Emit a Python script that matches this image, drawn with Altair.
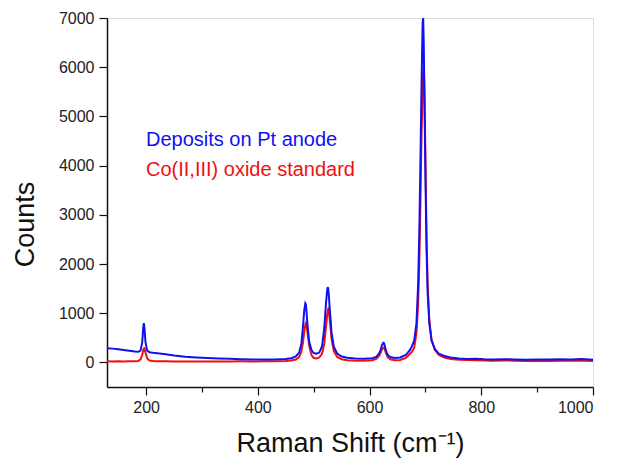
import altair as alt
import pandas as pd

# Raman shift grid (cm-1)
shift = [130,140,150,160,170,180,186,190,193,195,196,197,199,202,206,212,220,235,250,270,
         290,310,330,350,370,390,410,430,450,460,468,474,478,481,483,485,486,487,489,492,
         496,500,505,510,515,519,522,524,525,526,527,529,532,536,542,550,560,575,590,605,
         612,617,620,622,624,625,626,627,629,632,637,645,655,665,672,676,680,684,687,689,
         691,693,695,696,697,698,700,702,704,707,711,717,724,734,745,760,775,790,805,820,
         840,860,880,900,920,940,960,980,1000]

# Deposits on Pt anode (blue)
deposits = [290,280,265,250,235,220,215,240,400,720,800,690,400,240,205,195,185,165,140,115,
            100,90,80,75,65,60,58,60,70,85,120,200,380,750,1050,1200,1180,1050,750,420,
            250,190,175,200,330,700,1200,1450,1530,1500,1380,1050,600,320,180,120,95,80,75,85,
            110,180,260,340,390,400,390,350,250,160,110,90,100,150,250,330,450,800,1600,2600,
            4000,5600,6900,7000,6500,5600,3800,2300,1400,800,450,270,180,130,100,80,70,75,65,60,
            65,60,55,60,58,62,60,70,55]

# Co(II,III) oxide standard (red)
standard = [25,20,25,20,22,25,30,60,150,250,285,290,200,80,40,30,25,22,20,20,
            18,20,18,20,22,20,22,25,30,40,60,110,220,420,620,760,800,780,600,330,
            150,90,80,100,180,380,720,950,1040,1080,1050,850,480,230,110,65,45,35,35,45,
            70,130,200,260,290,300,300,280,200,110,65,45,50,90,170,220,300,600,1200,2000,
            3200,4600,5600,5900,6000,5700,4200,2600,1600,850,450,250,150,100,70,55,50,45,40,35,
            40,35,30,35,30,35,32,40,30]

legend_labels = ["Deposits on Pt anode", "Co(II,III) oxide standard"]
x_ticks = [200, 300, 400, 500, 600, 700, 800, 900, 1000]
y_ticks = [0, 500, 1000, 1500, 2000, 2500, 3000, 3500, 4000, 4500, 5000, 5500, 6000, 6500, 7000]

assert len(shift) == len(deposits) == len(standard)

df = pd.DataFrame({"shift": shift, "deposits": deposits, "standard": standard})

FONT = "Liberation Sans"
BLUE = "#1010f0"
RED = "#f01010"

x_enc = alt.X(
    "shift:Q",
    scale=alt.Scale(domain=[130, 1000], nice=False, zero=False),
    axis=alt.Axis(
        values=x_ticks,
        labelExpr="datum.value % 200 === 0 ? datum.label : ''",
        title="Raman Shift (cm⁻¹)",
        titleFontSize=27,
        titleFontWeight="normal",
        titleFont=FONT,
        titleColor="#111",
        titleBaseline="alphabetic",
        titleY=64,
        labelFont=FONT,
        labelFontSize=16,
        labelColor="#222",
        labelPadding=4,
        tickSize={"condition": {"test": "datum.value % 200 === 0", "value": 8}, "value": 5},
        tickColor="#111",
        tickWidth=1.2,
        domainColor="#111",
        domainWidth=1.5,
        grid=False,
        format="d",
    ),
)

y_axis = alt.Axis(
    values=y_ticks,
    labelExpr="datum.value % 1000 === 0 ? datum.label : ''",
    title="Counts",
    titleFontSize=27,
    titleFontWeight="normal",
    titleFont=FONT,
    titleColor="#111",
    titleBaseline="alphabetic",
    titleAngle=270,
    titleX=-74,
    titleY=206,
    labelFont=FONT,
    labelFontSize=16,
    labelColor="#222",
    labelPadding=5,
    tickSize={"condition": {"test": "datum.value % 1000 === 0", "value": 8}, "value": 5},
    tickColor="#111",
    tickWidth=1.2,
    domainColor="#111",
    domainWidth=1.5,
    grid=False,
    format="d",
)

y_scale = alt.Scale(domain=[-500, 7000], nice=False, zero=False)

base = alt.Chart(df)

red_line = base.mark_line(color=RED, strokeWidth=2, clip=True).encode(
    x=x_enc,
    y=alt.Y("standard:Q", scale=y_scale, axis=y_axis),
)
blue_line = base.mark_line(color=BLUE, strokeWidth=2, clip=True).encode(
    x=alt.X("shift:Q"),
    y=alt.Y("deposits:Q"),
)

lab1 = alt.Chart(pd.DataFrame({"label": [legend_labels[0]]})).mark_text(
    font=FONT, fontSize=20, color=BLUE, align="left", baseline="alphabetic"
).encode(x=alt.value(39), y=alt.value(128), text="label:N")
lab2 = alt.Chart(pd.DataFrame({"label": [legend_labels[1]]})).mark_text(
    font=FONT, fontSize=20, color=RED, align="left", baseline="alphabetic"
).encode(x=alt.value(39), y=alt.value(158), text="label:N")

chart = alt.layer(red_line, blue_line, lab1, lab2).properties(
    width=486,
    height=369,
    autosize=alt.AutoSizeParams(type="none"),
    padding={"left": 99, "top": 10, "right": 15, "bottom": 71},
).configure_view(stroke=None).configure(background="white")

chart.save("out.html", embed_options={"renderer": "svg", "actions": False})
